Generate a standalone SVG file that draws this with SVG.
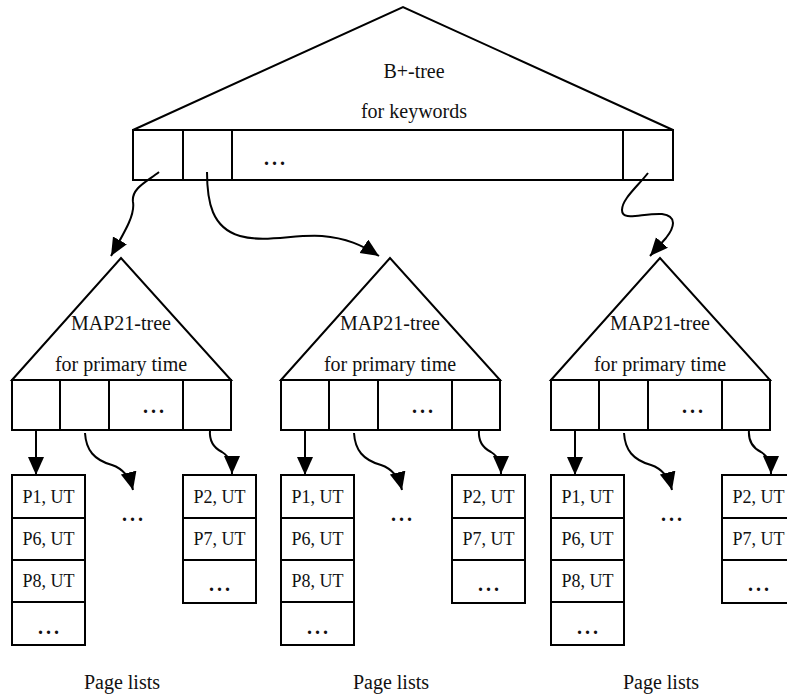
<svg xmlns="http://www.w3.org/2000/svg" xmlns:xlink="http://www.w3.org/1999/xlink" width="787" height="697" viewBox="0 0 787 697">
  <style>
    .shape { fill: #fff; stroke: #000; stroke-width: 2; }
    .ln { fill: none; stroke: #000; stroke-width: 2; }
    text { font-family: "Liberation Serif", "DejaVu Serif", "Times New Roman", serif; }
    .t { font-size: 20px; text-anchor: middle; fill: #111; }
    .cell { font-size: 18px; }
    .dots { font-size: 20px; font-weight: bold; letter-spacing: 3px; }
  </style>
  <defs>
    <marker id="head" markerUnits="userSpaceOnUse" markerWidth="20" markerHeight="18" refX="18" refY="8" orient="auto">
      <path d="M0,0 L18,8 L0,16 Z" fill="#000"/>
    </marker>

    <!-- MAP21 subtree: triangle with its leaf row -->
    <g id="map21">
      <polygon class="shape" points="12,380 121,258 231,380"/>
      <rect class="shape" x="12" y="380" width="219" height="50"/>
      <line class="ln" x1="60" y1="380" x2="60" y2="430"/>
      <line class="ln" x1="109" y1="380" x2="109" y2="430"/>
      <line class="ln" x1="183" y1="380" x2="183" y2="430"/>
      <text class="t" x="121" y="330">MAP21-tree</text>
      <text class="t" x="121" y="371">for primary time</text>
      <text class="t dots" x="155" y="413">...</text>
    </g>

    <!-- page list with four rows -->
    <g id="listLong">
      <rect class="shape" x="12" y="475" width="73" height="170"/>
      <line class="ln" x1="12" y1="518" x2="85" y2="518"/>
      <line class="ln" x1="12" y1="560" x2="85" y2="560"/>
      <line class="ln" x1="12" y1="602" x2="85" y2="602"/>
      <text class="t cell" x="48.5" y="503">P1, UT</text>
      <text class="t cell" x="48.5" y="545">P6, UT</text>
      <text class="t cell" x="48.5" y="587">P8, UT</text>
      <text class="t dots" x="50" y="634">...</text>
    </g>

    <!-- page list with three rows -->
    <g id="listShort">
      <rect class="shape" x="183" y="475" width="73" height="128"/>
      <line class="ln" x1="183" y1="518" x2="256" y2="518"/>
      <line class="ln" x1="183" y1="560" x2="256" y2="560"/>
      <text class="t cell" x="219.5" y="503">P2, UT</text>
      <text class="t cell" x="219.5" y="545">P7, UT</text>
      <text class="t dots" x="221" y="591">...</text>
    </g>

    <!-- arrows from a MAP21 leaf row -->
    <g id="leafArrows">
      <path class="ln" d="M36,430 L36,475" marker-end="url(#head)"/>
      <path class="ln" d="M85,433 C86,450 94,460 112,465 C124,469 130,478 133,490" marker-end="url(#head)"/>
      <path class="ln" d="M210,430 C209,442 214,448 222,452 C230,457 232,464 232,474" marker-end="url(#head)"/>
    </g>
  </defs>

  <!-- B+-tree root -->
  <g id="btree">
    <polygon class="shape" points="133,130 403,7 673,130"/>
    <rect class="shape" x="133" y="130" width="540" height="50"/>
    <line class="ln" x1="183" y1="130" x2="183" y2="180"/>
    <line class="ln" x1="232" y1="130" x2="232" y2="180"/>
    <line class="ln" x1="623" y1="130" x2="623" y2="180"/>
    <text class="t" x="414" y="78">B+-tree</text>
    <text class="t" x="414" y="118">for keywords</text>
    <text class="t dots" x="276" y="165">...</text>
  </g>

  <!-- MAP21 subtrees -->
  <g id="map21-left"><use xlink:href="#map21"/></g>
  <g id="map21-middle" transform="translate(269,0)"><use xlink:href="#map21"/></g>
  <g id="map21-right" transform="translate(539,0)"><use xlink:href="#map21"/></g>

  <!-- page lists -->
  <g id="pages-left">
    <use xlink:href="#listLong"/>
    <use xlink:href="#listShort"/>
    <text class="t dots" x="134" y="521">...</text>
    <text class="t" x="122" y="689">Page lists</text>
  </g>
  <g id="pages-middle" transform="translate(269,0)">
    <use xlink:href="#listLong"/>
    <use xlink:href="#listShort"/>
    <text class="t dots" x="134" y="521">...</text>
    <text class="t" x="122" y="689">Page lists</text>
  </g>
  <g id="pages-right" transform="translate(539,0)">
    <use xlink:href="#listLong"/>
    <use xlink:href="#listShort"/>
    <text class="t dots" x="134" y="521">...</text>
    <text class="t" x="122" y="689">Page lists</text>
  </g>

  <!-- connectors -->
  <g id="connectors">
    <path class="ln" d="M159,172 C148,181 131,188 133,202 C135,214 127,228 111,256" marker-end="url(#head)"/>
    <path class="ln" d="M207,172 C207,202 212,228 240,236 C265,243 295,234 322,236 C346,238 362,245 379,256" marker-end="url(#head)"/>
    <path class="ln" d="M648,173 C638,186 622,199 622,210 C622,222 642,213 662,214 C678,216 674,228 666,238 L650,256" marker-end="url(#head)"/>
    <use xlink:href="#leafArrows"/>
    <use xlink:href="#leafArrows" transform="translate(269,0)"/>
    <use xlink:href="#leafArrows" transform="translate(539,0)"/>
  </g>
</svg>
